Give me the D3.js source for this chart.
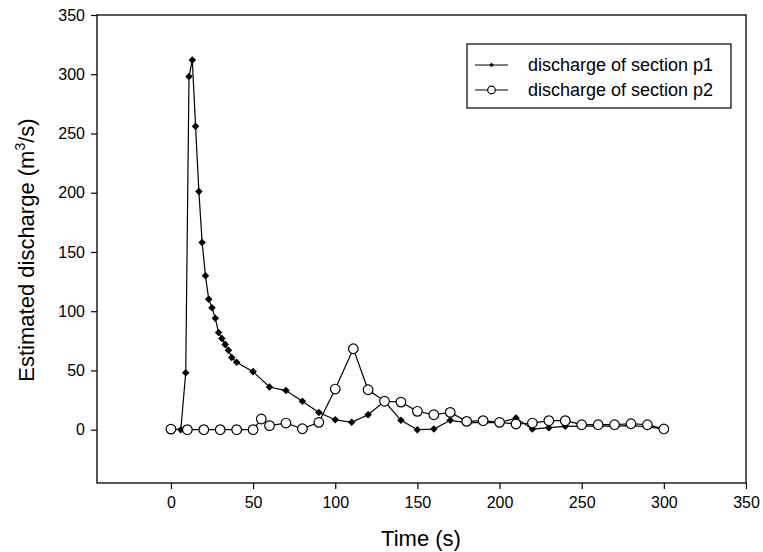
<!DOCTYPE html>
<html>
<head>
<meta charset="utf-8">
<script src="https://cdn.jsdelivr.net/npm/d3@7"></script>
<style>
  body { margin: 0; background: white; }
  text { font-family: "Liberation Sans", Arial, sans-serif; fill: black; }
</style>
</head>
<body>
<svg width="763" height="552"></svg>
<script>
// section p1 (filled diamonds)
var p1Time = [6, 9, 11, 13, 15, 17, 19, 21, 23, 25, 27, 29, 31, 33, 35, 37, 40, 50, 60, 70, 80, 90, 100, 110, 120, 130, 140, 150, 160, 170, 180, 190, 200, 210, 220, 230, 240, 250, 260, 270, 280, 290, 300];
var p1Flow = [0, 48, 298, 312, 256, 201, 158, 130, 110, 103, 94, 82, 77, 72, 67, 61, 57, 49, 36, 33, 24, 14.5, 8.4, 6.2, 12.6, 24, 7.9, 0, 0.5, 7.9, 6, 6, 6, 9.8, 0.5, 1.7, 2.8, 3, 3, 3, 3.5, 2.5, 0.5];
// section p2 (open circles)
var p2Time = [0, 10, 20, 30, 40, 50, 55, 60, 70, 80, 90, 100, 111, 120, 130, 140, 150, 160, 170, 180, 190, 200, 210, 220, 230, 240, 250, 260, 270, 280, 290, 300];
var p2Flow = [0.5, 0, 0, 0, 0, 0, 9, 3.4, 5.6, 0.8, 6.2, 34.3, 68.3, 33.7, 24, 23.3, 15.5, 12.6, 14.6, 7, 7.6, 6.2, 4.8, 5.6, 7.6, 7.6, 4.2, 4.2, 4.2, 5, 4.2, 0.6];
var xTicks = [0, 50, 100, 150, 200, 250, 300, 350];
var yTicks = [0, 50, 100, 150, 200, 250, 300, 350];
var seriesNames = ["discharge of section p1", "discharge of section p2"];

var svg = d3.select("svg");
var x = d3.scaleLinear().domain([-45, 350]).range([97, 746]);
var y = d3.scaleLinear().domain([-45, 350]).range([483, 15]);

// frame
svg.append("rect")
  .attr("x", 97).attr("y", 15)
  .attr("width", 746 - 97).attr("height", 483 - 15)
  .attr("fill", "none").attr("stroke", "black").attr("stroke-width", 1.3);

var xAxis = svg.append("g")
  .attr("transform", "translate(0,483)")
  .call(d3.axisBottom(x).tickValues(xTicks).tickSize(6).tickPadding(8));
var yAxis = svg.append("g")
  .attr("transform", "translate(97,0)")
  .call(d3.axisLeft(y).tickValues(yTicks).tickSize(6).tickPadding(6));
[xAxis, yAxis].forEach(function(a) {
  a.select(".domain").remove();
  a.selectAll("line").attr("stroke", "black").attr("stroke-width", 1.2);
  a.selectAll("text").style("font-size", "16px").style("font-family", "Liberation Sans, Arial, sans-serif");
});

svg.append("text")
  .attr("x", 421).attr("y", 546)
  .attr("text-anchor", "middle")
  .style("font-size", "22px")
  .text("Time (s)");

var yl = svg.append("text")
  .attr("transform", "translate(34,250)rotate(-90)")
  .attr("text-anchor", "middle")
  .style("font-size", "22px");
yl.append("tspan").text("Estimated discharge (m");
yl.append("tspan").attr("dy", -9).style("font-size", "14px").text("3");
yl.append("tspan").attr("dy", 9).text("/s)");

var p1 = p1Time.map(function(t, i) { return [t, p1Flow[i]]; });
var p2 = p2Time.map(function(t, i) { return [t, p2Flow[i]]; });
var line = d3.line().x(function(d) { return x(d[0]); }).y(function(d) { return y(d[1]); });

svg.append("path").datum(p1).attr("d", line)
  .attr("fill", "none").attr("stroke", "black").attr("stroke-width", 1.2);
svg.append("path").datum(p2).attr("d", line)
  .attr("fill", "none").attr("stroke", "black").attr("stroke-width", 1.2);

var diamond = d3.symbol().type(d3.symbolDiamond2).size(36);
svg.append("g").selectAll("path")
  .data(p1).enter().append("path")
  .attr("transform", function(d) { return "translate(" + x(d[0]) + "," + y(d[1]) + ")"; })
  .attr("d", diamond)
  .attr("fill", "black");

svg.append("g").selectAll("circle")
  .data(p2).enter().append("circle")
  .attr("cx", function(d) { return x(d[0]); })
  .attr("cy", function(d) { return y(d[1]); })
  .attr("r", 4.8)
  .attr("fill", "white").attr("stroke", "black").attr("stroke-width", 1.2);

// legend
var lg = svg.append("g");
lg.append("rect")
  .attr("x", 467).attr("y", 44).attr("width", 264).attr("height", 64)
  .attr("fill", "white").attr("stroke", "black").attr("stroke-width", 1.2);
seriesNames.forEach(function(name, i) {
  var ly = 65 + i * 25;
  lg.append("line").attr("x1", 475).attr("x2", 508).attr("y1", ly).attr("y2", ly)
    .attr("stroke", "black").attr("stroke-width", 1.2);
  if (i === 0) {
    lg.append("path").attr("transform", "translate(491.5," + ly + ")")
      .attr("d", d3.symbol().type(d3.symbolDiamond2).size(14)).attr("fill", "black");
  } else {
    lg.append("circle").attr("cx", 491.5).attr("cy", ly).attr("r", 3.8)
      .attr("fill", "white").attr("stroke", "black").attr("stroke-width", 1.2);
  }
  lg.append("text").attr("x", 528).attr("y", ly + 6)
    .style("font-size", "18px").text(name);
});
</script>
</body>
</html>
